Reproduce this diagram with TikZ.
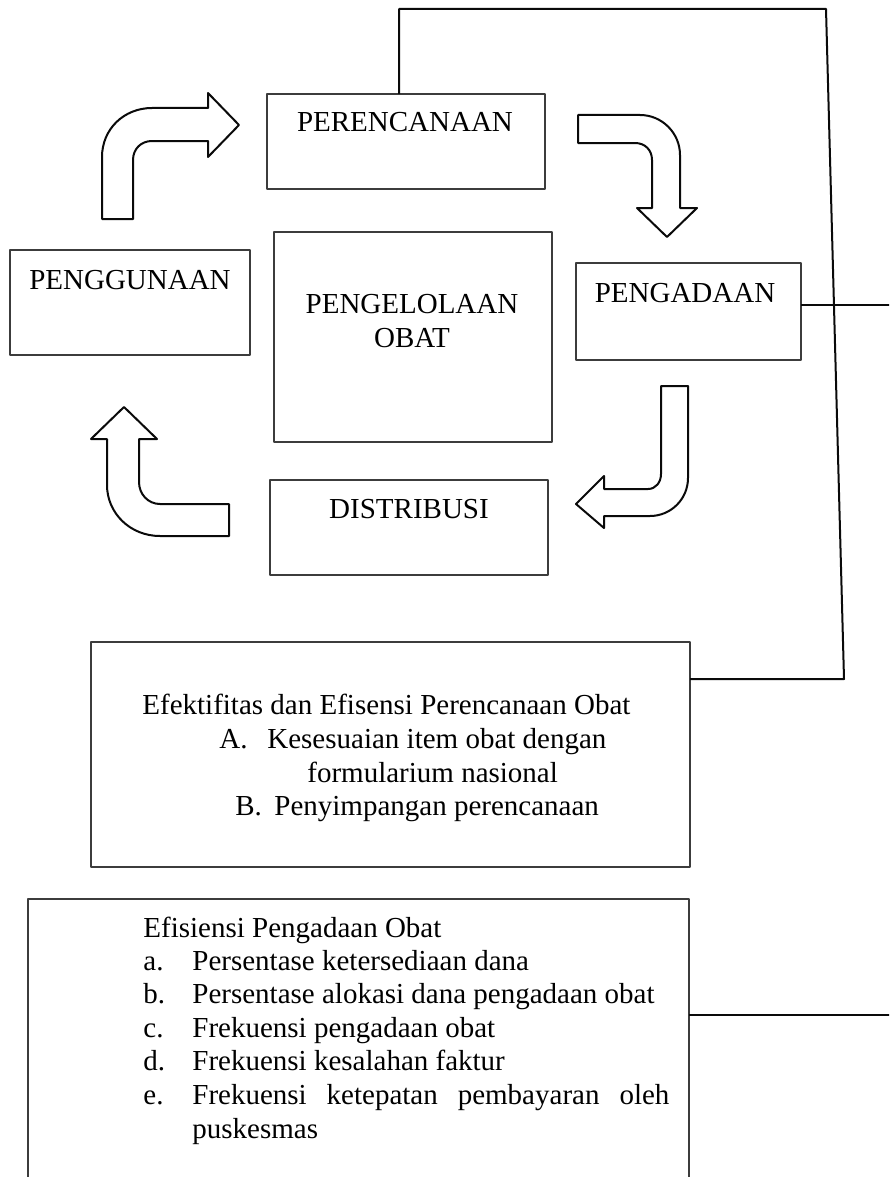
\documentclass[tikz,border=0pt]{standalone}
\usepackage{fontspec}
\setmainfont{Liberation Serif}
\definecolor{box_gray}{RGB}{60,60,60}
\definecolor{line_black}{RGB}{10,10,10}

\begin{document}
\begin{tikzpicture}[x=0.5pt,y=-0.5pt,line join=round,font=\fontsize{14.5pt}{17pt}\selectfont]
    \tikzstyle{box}=[draw=box_gray, line width=0.75pt, rectangle, inner sep=0, outer sep=0, fill=none]
    \tikzstyle{txt}=[inner sep=0, anchor=base, text=black]
    \tikzstyle{ltxt}=[style=txt, anchor=base west]
    \tikzstyle{bentarr}=[draw=line_black, line width=1pt, fill=white]
    \tikzstyle{link}=[draw=line_black, line width=1pt]

    \useasboundingbox (0,0) rectangle (889,1177);
    \clip (0,0) rectangle (889,1177);

    \node[box, minimum width=139pt, minimum height=47.5pt]   (ren)    at (406,141.5)  {};
    \node[box, minimum width=120pt, minimum height=52.5pt]   (guna)   at (130,302.5)  {};
    \node[box, minimum width=139pt, minimum height=105pt]    (kelola) at (413,337)    {};
    \node[box, minimum width=112.5pt, minimum height=48.5pt] (ada)    at (688.5,311.5){};
    \node[box, minimum width=139pt, minimum height=47.5pt]   (dist)   at (409,527.5)  {};
    \node[box, minimum width=299.5pt, minimum height=112.5pt](efek)   at (390.5,754.5){};
    \node[box, minimum width=330.5pt, minimum height=150.5pt](efis)   at (358.5,1049.5){};

    \node[txt] (tren)  at (405,132) {PERENCANAAN};
    \node[txt] (tguna) at (130,289) {PENGGUNAAN};
    \node[txt] (tkel1) at (412,313) {PENGELOLAAN};
    \node[txt] (tkel2) at (412,347) {OBAT};
    \node[txt] (tada)  at (685,302) {PENGADAAN};
    \node[txt] (tdist) at (409,518) {DISTRIBUSI};

    \node[ltxt] (ef0)  at (142,714) {Efektifitas dan Efisensi Perencanaan Obat};
    \node[ltxt] (efA)  at (219,748) {A.};
    \node[ltxt] (efA1) at (267,748) {Kesesuaian item obat dengan};
    \node[ltxt] (efA2) at (307,782) {formularium nasional};
    \node[ltxt] (efB)  at (235,815) {B.};
    \node[ltxt] (efB1) at (274,815) {Penyimpangan perencanaan};

    \node[ltxt] (es0) at (143,937)  {Efisiensi Pengadaan Obat};
    \node[ltxt] (esa) at (143,970)  {a.};
    \node[ltxt] (esb) at (143,1003) {b.};
    \node[ltxt] (esc) at (143,1037) {c.};
    \node[ltxt] (esd) at (143,1070) {d.};
    \node[ltxt] (ese) at (143,1104) {e.};
    \node[ltxt] (esa1) at (192,970)  {Persentase ketersediaan dana};
    \node[ltxt] (esb1) at (192,1003) {Persentase alokasi dana pengadaan obat};
    \node[ltxt] (esc1) at (192,1037) {Frekuensi pengadaan obat};
    \node[ltxt] (esd1) at (192,1070) {Frekuensi kesalahan faktur};
    \node[ltxt] (ese1) at (192,1104) {\makebox[238.5pt][s]{Frekuensi ketepatan pembayaran oleh}};
    \node[ltxt] (ese2) at (192,1138) {puskesmas};

    \draw[bentarr] (102,219) -- (102,157) .. controls (102,129) and (124,108) .. (152,108)
        -- (208,108) -- (208,93) -- (239,125) -- (208,157) -- (208,141) -- (152,141)
        .. controls (141,141) and (133,149) .. (133,160) -- (133,219) -- cycle;
    \draw[bentarr] (578,115) -- (640,115) .. controls (662,115) and (680,133) .. (680,155)
        -- (680,208) -- (697,208) -- (667,237) -- (637,208) -- (652,208) -- (652,160)
        .. controls (652,150) and (645,143) .. (635,143) -- (578,143) -- cycle;
    \draw[bentarr] (661,386) -- (688,386) -- (688,478) .. controls (688,499) and (671,516) .. (650,516)
        -- (604,516) -- (604,528) -- (576,504) -- (604,476) -- (604,489) -- (648,489)
        .. controls (656,489) and (661,482) .. (661,474) -- cycle;
    \draw[bentarr] (229,504) -- (229,536) -- (160,536) .. controls (130,536) and (107,513) .. (107,485)
        -- (107,439) -- (91,439) -- (124,407) -- (157,439) -- (139,439) -- (139,482)
        .. controls (139,494) and (148,504) .. (160,504) -- cycle;

    \coordinate (c0) at (399,9);
    \coordinate (c1) at (826,9);
    \coordinate (c2) at (844,679);
    \coordinate (e1) at (895,305);
    \coordinate (e2) at (895,1015);
    \draw[link] (ren.north -| c0) -- (c0) -- (c1) -- (c2) -- (efek.east |- c2);
    \draw[link] (ada.east |- e1) -- (e1);
    \draw[link] (efis.east |- e2) -- (e2);
  \end{tikzpicture}
\end{document}
